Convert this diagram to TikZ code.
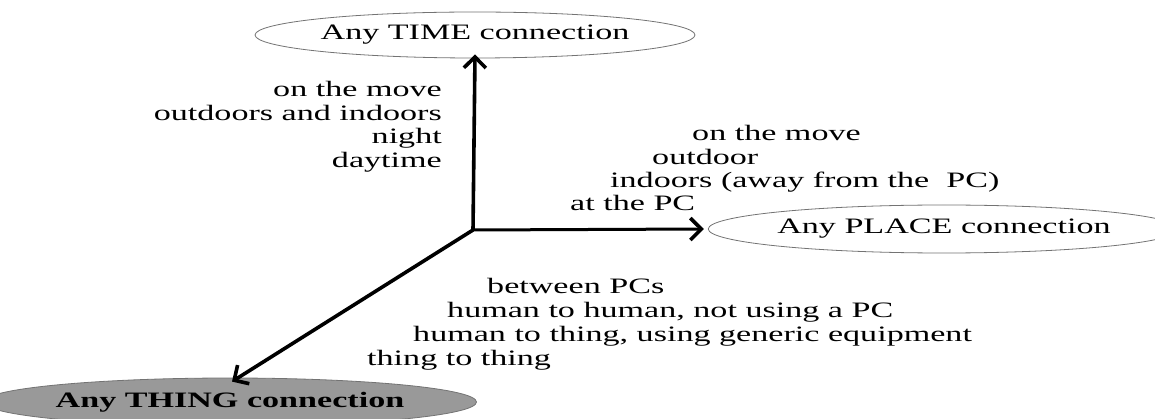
\documentclass[tikz,border=0pt]{standalone}
\usepackage{fontspec}
\setmainfont[FakeStretch=1.55]{Liberation Serif}
\usetikzlibrary{shapes.geometric,arrows.meta}
\tikzset{
  axis/.style={line width=3.6pt,-{Straight Barb[length=11pt,width=22pt,line width=3.6pt]}},
  bubble/.style={ellipse,draw=black!55,line width=0.8pt,inner sep=0pt,
    font=\fontsize{22}{24}\selectfont},
  item/.style={inner sep=0pt,font=\fontsize{22}{24}\selectfont}
}
\begin{document}
\begin{tikzpicture}[x=1pt,y=-1pt]
\useasboundingbox (0,0) rectangle (1155,419);
% end nodes
\node[bubble,fill=white,minimum width=440pt,minimum height=46pt] (time) at (475,35) {Any TIME connection};
\node[bubble,fill=white,minimum width=432pt,minimum height=48pt] (place) at (944,229) {Any PLACE connection};
\node[bubble,fill=black!40,minimum width=436pt,minimum height=48pt,font=\fontsize{22}{24}\selectfont\bfseries] (thing) at (230,402) {Any THING connection};
% origin of the three axes
\coordinate (o) at (473,230);
\draw[axis] (o) -- ([yshift=4pt]time.south);
\draw[axis,line width=3pt] (o) -- ([xshift=-4pt]place.west);
\draw[axis] (o) -- ([xshift=2pt,yshift=-4pt]thing.north);
% time axis items
\node[item,anchor=base east] (t1) at (442,97) {on the move};
\node[item,anchor=base east] (t2) at (442,120.5) {outdoors and indoors};
\node[item,anchor=base east] (t3) at (442,144) {night};
\node[item,anchor=base east] (t4) at (442,167.5) {daytime};
% place axis items
\node[item,anchor=base west] (p1) at (692,141) {on the move};
\node[item,anchor=base west] (p2) at (652,165) {outdoor};
\node[item,anchor=base west] (p3) at (610,188) {indoors (away from the \ PC)};
\node[item,anchor=base west] (p4) at (570,211) {at the PC};
% thing axis items
\node[item,anchor=base west] (h1) at (487,294) {between PCs};
\node[item,anchor=base west] (h2) at (447,317) {human to human, not using a PC};
\node[item,anchor=base west] (h3) at (413,341) {human to thing, using generic equipment};
\node[item,anchor=base west] (h4) at (367,365) {thing to thing};
\end{tikzpicture}
\end{document}
